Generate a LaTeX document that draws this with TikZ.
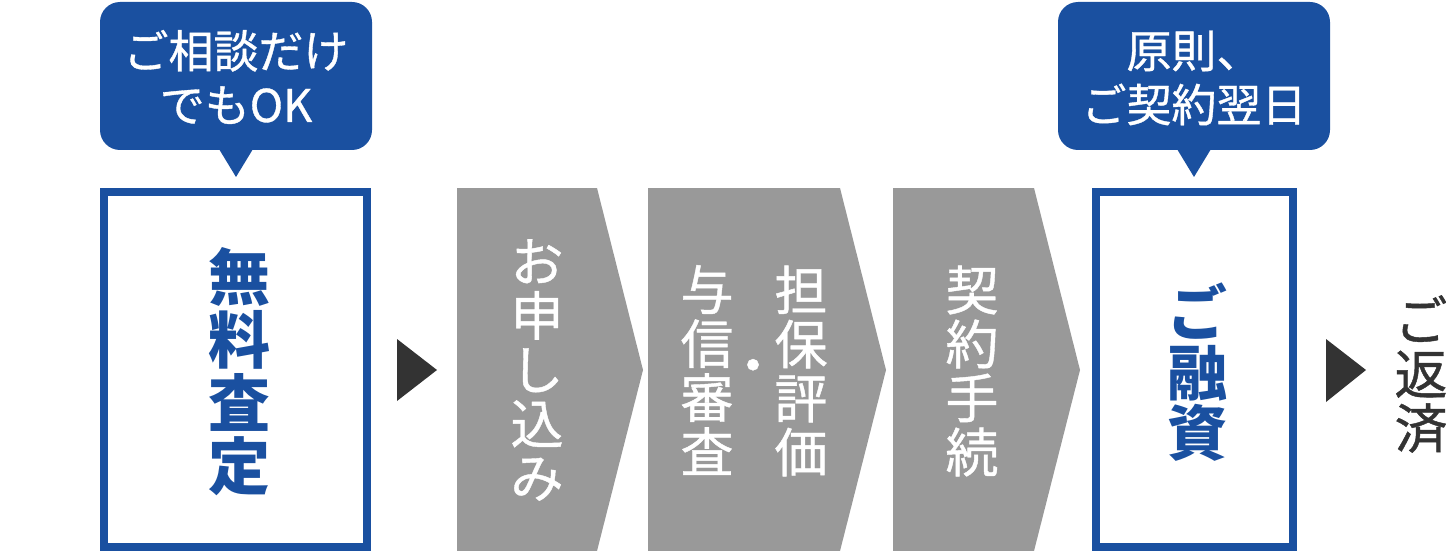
\documentclass[tikz,border=0pt]{standalone}
\usepackage{fontspec}
\newfontfamily\cjk{Noto Sans CJK JP}
\newfontfamily\cjkmed[FakeBold=0.8]{Noto Sans CJK JP}
\definecolor{flowblue}{HTML}{1A50A0}
\definecolor{stepgray}{HTML}{999999}
\definecolor{markdark}{HTML}{333333}
\begin{document}
\begin{tikzpicture}[x=0.5pt,y=-0.5pt,
  tipbubble/.style={fill=flowblue,rounded corners=10pt},
  tiptext/.style={text=white,align=center,inner sep=0pt,font=\cjkmed\fontsize{22.5}{27}\selectfont},
  framebox/.style={draw=flowblue,line width=4pt},
  chevron/.style={fill=stepgray},
  pointer/.style={fill=markdark},
  bigtext/.style={text=flowblue,align=center,inner sep=0pt,font=\cjk\bfseries\fontsize{31}{31.5}\selectfont},
  steptext/.style={text=white,align=center,inner sep=0pt,font=\cjkmed\fontsize{26.5}{27}\selectfont}]

\useasboundingbox (0,0) rectangle (1446,551);

% 1. Speech bubbles above the two framed steps
\fill[tipbubble] (100,2) rectangle (372,150);
\fill[flowblue] (219,149) -- (236,177) -- (253,149) -- cycle;
\node[tiptext] (tipA) at (236,77) {ご相談だけ\\でもOK};

\fill[tipbubble] (1058,2) rectangle (1330,150);
\fill[flowblue] (1177,149) -- (1194,177) -- (1211,149) -- cycle;
\node[tiptext] (tipB) at (1194,78) {原則、\\ご契約翌日};

% 2. Framed boxes (first and last step)
\draw[framebox] (104,192) rectangle (367,547);
\draw[framebox] (1096,192) rectangle (1293,547);

% 3. Grey chevrons for the middle steps
\fill[chevron] (457,188) -- (597,188) -- (643,370) -- (597,551) -- (457,551) -- cycle;
\fill[chevron] (648,188) -- (840,188) -- (886,370) -- (840,551) -- (648,551) -- cycle;
\fill[chevron] (893,188) -- (1034,188) -- (1080,370) -- (1034,551) -- (893,551) -- cycle;

% 4. Dark pointers
\fill[pointer] (397,339) -- (437,370) -- (397,401) -- cycle;
\fill[pointer] (1326,339) -- (1366,370) -- (1326,402) -- cycle;

% 5. Vertical labels
\node[bigtext] (satei) at (239,372) {無\\料\\査\\定};
\node[steptext] (moushikomi) at (537,370) {お\\申\\し\\込\\み};
\node[steptext] (tanpo) at (801,371) {担\\保\\評\\価};
\node[steptext] (dot) at (753,372) {・};
\node[steptext] (yoshin) at (707,370) {与\\信\\審\\査};
\node[steptext] (keiyaku) at (972,371) {契\\約\\手\\続};
\node[bigtext,font=\cjk\bfseries\fontsize{30}{30}\selectfont] (yushi) at (1197,372) {ご\\融\\資};
\node[steptext,text=markdark] (hensai) at (1421,374) {ご\\返\\済};

\end{tikzpicture}
\end{document}
